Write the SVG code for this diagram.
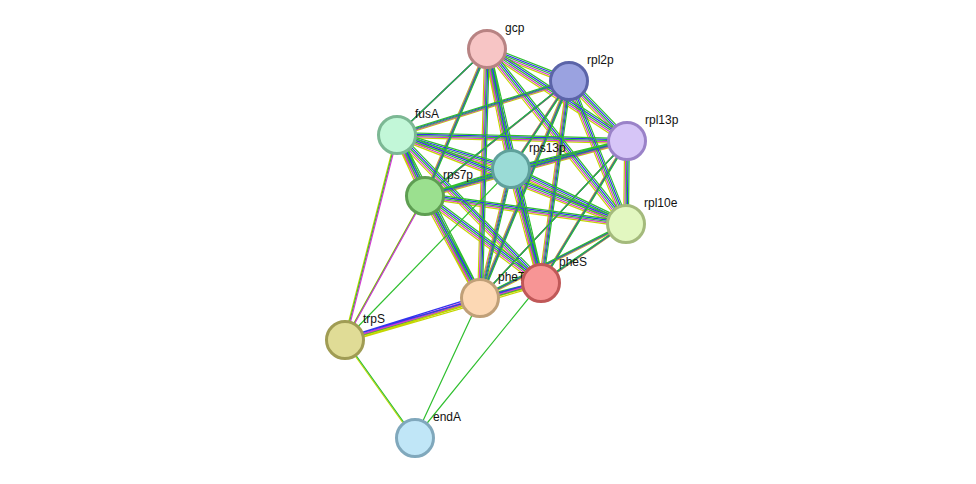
<svg xmlns="http://www.w3.org/2000/svg" xmlns:xlink="http://www.w3.org/1999/xlink" width="976" height="484" viewBox="0 0 976 484">
<style>
.e{fill:none;stroke-width:1.2}
.g{stroke:#2fbf2f}.y{stroke:#c4d600}.b{stroke:#3333ee}.m{stroke:#d23cd2}.k{stroke:#222}
.n circle{stroke-width:3}
text{font-family:"Liberation Sans",Arial,sans-serif;font-size:12px;fill:#111}
</style>
<defs>
<path id="core" d="M487,49L569,81M487,49L397,135M487,49L627,141M487,49L511,169M487,49L425,196M487,49L626,224M487,49L541,283M487,49L480,298
M569,81L397,135M569,81L627,141M569,81L511,169M569,81L425,196M569,81L626,224M569,81L541,283M569,81L480,298
M397,135L627,141M397,135L511,169M397,135L425,196M397,135L626,224M397,135L541,283M397,135L480,298
M627,141L511,169M627,141L425,196M627,141L626,224M627,141L541,283M627,141L480,298
M511,169L425,196M511,169L626,224M511,169L541,283M511,169L480,298
M425,196L626,224M425,196L541,283M425,196L480,298
M626,224L541,283M626,224L480,298M541,283L480,298"/>
<path id="trp" d="M345,340L397,135M345,340L425,196M345,340L480,298M345,340L541,283"/>
</defs>
<g id="connectors">
<use href="#core" class="e y" transform="translate(-2.4,2.4)"/>
<use href="#core" class="e m" transform="translate(-1.2,1.2)"/>
<use href="#core" class="e g"/>
<use href="#core" class="e b" transform="translate(1.2,-1.2)"/>
<use href="#core" class="e g" transform="translate(2.4,-2.4)"/>
<use href="#trp" class="e y" transform="translate(-1.2,1.2)"/>
<use href="#trp" class="e g"/>
<use href="#trp" class="e m" transform="translate(1.2,-1.2)"/>
<path class="e g" d="M345,340L511,169"/>
<path class="e b" d="M345,340L480,298M345,340L541,283" transform="translate(0,-2.4)"/>
<path class="e y" d="M345,340L480,298M345,340L541,283" transform="translate(0,2.4)"/>
<path class="e y" d="M345,340L415,438" transform="translate(-1.2,0)"/>
<path class="e g" d="M345,340L415,438M480,298L415,438M541,283L415,438"/>
</g>
<g id="gcp" class="n"><circle cx="487" cy="49" r="18.5" fill="#f7c5c5" stroke="#b88383"/><text x="505" y="32">gcp</text></g>
<g id="rpl2p" class="n"><circle cx="569" cy="81" r="18.5" fill="#9aa2e0" stroke="#5b64a8"/><text x="587" y="64">rpl2p</text></g>
<g id="fusA" class="n"><circle cx="397" cy="135" r="18.5" fill="#c2f7d8" stroke="#7cb894"/><text x="415" y="118">fusA</text></g>
<g id="rpl13p" class="n"><circle cx="627" cy="141" r="18.5" fill="#d6c5f7" stroke="#9a82c8"/><text x="645" y="124">rpl13p</text></g>
<g id="rps13p" class="n"><circle cx="511" cy="169" r="18.5" fill="#9adbd6" stroke="#5fa09b"/><text x="529" y="152">rps13p</text></g>
<g id="rps7p" class="n"><circle cx="425" cy="196" r="18.5" fill="#9be08f" stroke="#5e9e52"/><text x="443" y="179">rps7p</text></g>
<g id="rpl10e" class="n"><circle cx="626" cy="224" r="18.5" fill="#e2f7c0" stroke="#a4ba7c"/><text x="644" y="207">rpl10e</text></g>
<g id="pheT" class="n"><circle cx="480" cy="298" r="18.5" fill="#fcd8b4" stroke="#c0a078"/><text x="498" y="281">pheT</text></g>
<g id="pheS" class="n"><circle cx="541" cy="283" r="18.5" fill="#f79595" stroke="#c05858"/><text x="559" y="266">pheS</text></g>
<g id="trpS" class="n"><circle cx="345" cy="340" r="18.5" fill="#e0dc96" stroke="#a09c54"/><text x="363" y="323">trpS</text></g>
<g id="endA" class="n"><circle cx="415" cy="438" r="18.5" fill="#c0e6f7" stroke="#80a8bc"/><text x="433" y="421">endA</text></g>
</svg>
